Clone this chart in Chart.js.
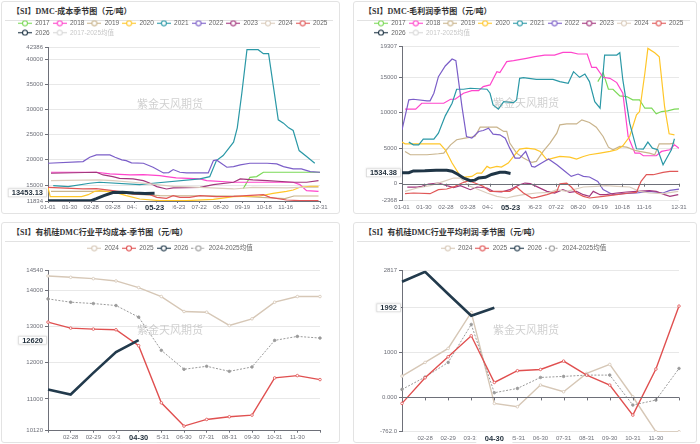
<!DOCTYPE html>
<html><head><meta charset="utf-8">
<script src="https://cdn.jsdelivr.net/npm/chart.js@4.4.1/dist/chart.umd.min.js"></script>
<style>
html,body{margin:0;padding:0;background:#fff;width:700px;height:444px;overflow:hidden;}
.card{position:absolute;border:1px solid #e3e3e3;border-radius:3px;background:#fff;box-sizing:border-box;}
.title{position:absolute;left:10px;top:5px;line-height:10px;font-weight:bold;font-size:8px;font-family:"Liberation Serif","Noto Sans CJK SC",serif;color:#333;white-space:nowrap;}
.sep{position:absolute;left:3px;right:6px;top:18px;height:1px;background:#e2e2e2;}
.wm{position:absolute;font-size:11px;font-family:"Noto Sans CJK SC",sans-serif;color:rgba(150,150,150,0.45);white-space:nowrap;transform:translate(-50%,-50%);pointer-events:none;z-index:5;}
canvas{position:absolute;z-index:2;}
</style></head>
<body>
<div class="card" style="left:1px;top:1px;width:339px;height:213px"><div class="title">【SI】DMC-成本季节图（元/吨）</div><div class="sep"></div></div>
<div class="card" style="left:353px;top:1px;width:344px;height:213px"><div class="title">【SI】DMC-毛利润季节图（元/吨）</div><div class="sep"></div></div>
<div class="card" style="left:1px;top:222px;width:339px;height:221px"><div class="title">【SI】有机硅DMC行业平均成本-季节图（元/吨）</div><div class="sep"></div></div>
<div class="card" style="left:353px;top:222px;width:344px;height:221px"><div class="title">【SI】有机硅DMC行业平均利润-季节图（元/吨）</div><div class="sep"></div></div>

<canvas id="c1" width="340" height="197" style="left:0px;top:17px"></canvas>
<canvas id="c2" width="347" height="197" style="left:350px;top:17px"></canvas>
<canvas id="c3" width="340" height="201" style="left:0px;top:242px"></canvas>
<canvas id="c4" width="347" height="201" style="left:350px;top:242px"></canvas>

<div class="wm" style="left:170px;top:103px">紫金天风期货</div>
<div class="wm" style="left:526px;top:102px">紫金天风期货</div>
<div class="wm" style="left:170px;top:329px">紫金天风期货</div>
<div class="wm" style="left:526px;top:329px">紫金天风期货</div>

<script>
// ---------------- DATA ----------------
const seasonLabels = ['2017','2018','2019','2020','2021','2022','2023','2024','2025','2026','2017-2025均值'];
const seasonColors = ['#7bd957','#ff45cc','#c9b48c','#ffc629','#2a98a6','#7b5ec8','#a3377d','#dbcdbd','#e05757','#1f3546','#cccccc'];
const dayTicks = [0,29,58,87,116,145,174,203,232,261,290,319,365];
const dayTickLabels = ['01-01','01-30','02-28','03-28','04-26','05-25','06-23','07-22','08-20','09-19','10-18','11-16','12-31'];

// DMC cost seasonal: [day of year, value]
const cost2017 = [[262,14290],[271,16540],[280,16670],[289,17540],[365,17540]];
const cost2018 = [[4,17540],[65,17540],[83,17200],[110,17000],[128,17070],[150,16870],[159,16670],[172,16410],[204,16210],[213,15880],[249,15550],[329,15550],[338,15080],[347,13890],[363,13760]];
const cost2019 = [[4,13760],[90,13760],[110,13230],[150,12900],[250,12830],[318,12300],[330,12830],[363,12830]];
const cost2020 = [[0,14550],[3,12700],[45,12700],[54,13090],[63,13760],[69,13890],[90,13560],[105,12900],[123,12230],[150,11900],[186,11900],[222,12170],[249,12700],[284,12830],[302,13360],[320,13760],[329,14020],[338,14550],[352,14750],[363,14750]];
const cost2021 = [[7,14880],[27,14690],[56,15350],[69,15550],[123,15080],[141,15350],[204,16210],[217,16670],[226,19850],[235,20850],[249,23500],[254,26350],[260,33110],[267,41860],[282,41860],[289,41060],[296,41060],[309,27940],[316,27280],[323,26350],[329,25820],[337,21840],[347,20650],[358,19320]];
const cost2022 = [[0,19320],[47,19650],[56,20520],[65,20980],[83,20980],[90,20520],[99,19990],[105,19850],[112,19390],[128,19320],[141,18530],[155,17400],[162,17470],[168,18070],[177,17540],[186,17400],[215,17400],[222,19850],[226,19990],[240,18530],[249,18660],[258,18990],[271,19320],[294,19320],[307,19190],[316,18660],[329,18200],[340,18200],[352,17670],[365,17540]];
const cost2023 = [[4,17340],[65,17540],[74,17000],[87,16670],[96,16340],[114,16210],[128,15880],[137,15350],[146,14690],[159,14220],[168,14420],[204,14550],[222,15080],[249,15550],[258,16210],[275,16010],[294,15880],[329,15550],[347,15550],[363,15880]];
const cost2024 = [[4,15880],[69,16010],[87,15880],[114,15550],[137,15220],[168,14750],[204,14550],[249,14220],[275,14550],[320,14420],[338,14550],[363,14550]];
const cost2025 = [[0,14550],[47,14220],[65,14290],[87,13890],[105,13560],[114,13230],[137,13090],[146,12560],[159,12370],[168,12900],[177,12560],[190,12560],[204,12900],[226,12700],[249,12760],[289,13090],[298,12560],[320,12030],[338,11900],[363,11900]];
const cost2026 = [[0,11900],[20,11900],[40,11870],[57,11870],[65,12300],[75,12900],[87,13500],[100,13560],[115,13400],[130,13300],[143,13350]];
const costTicks = [11834,15000,20000,25000,30000,35000,40000,42386];

// DMC gross profit seasonal: [day of year, value]
const profit2017 = [[258,14390],[265,15650],[272,13310],[278,13310],[287,12370],[296,12280],[304,11810],[313,11810],[320,10640],[329,10640],[335,9840],[342,10170],[350,10260],[359,10500],[365,10550]];
const profit2018 = [[4,10500],[18,10500],[26,11340],[55,11340],[64,11900],[70,11900],[81,12750],[92,13120],[101,13120],[107,13680],[116,13920],[125,15790],[129,15650],[138,17200],[147,17340],[164,17670],[175,17900],[188,18130],[201,18130],[212,18510],[223,18510],[232,18280],[244,18280],[250,16400],[256,16400],[265,15000],[274,14850],[283,14250],[291,12750],[298,6650],[307,4310],[313,4310],[318,3940],[335,3940],[342,4550],[353,4780],[359,5480],[365,5010]];
const profit2019 = [[4,4550],[11,4080],[33,4080],[48,4220],[55,4310],[64,5480],[72,6190],[83,6420],[96,6650],[103,7970],[125,7970],[134,7360],[138,7360],[142,5720],[151,4310],[160,3610],[171,3000],[177,3140],[186,4550],[195,5720],[204,7120],[208,8290],[217,8430],[230,8430],[237,9000],[247,8620],[256,7970],[265,6650],[272,5150],[278,4780],[287,5250],[296,5150],[307,4690],[313,4550],[326,4310],[333,4080],[339,5620],[353,5620],[359,5720]];
const profit2020 = [[0,5860],[4,5620],[15,5620],[50,5620],[57,4780],[66,2910],[77,1030],[83,940],[92,1030],[99,1500],[105,1500],[112,2440],[116,2200],[125,2440],[131,2340],[140,2910],[147,3840],[155,4870],[164,5010],[175,4870],[182,4550],[191,3370],[199,3610],[208,3840],[221,3750],[230,3470],[239,3840],[247,4080],[261,4310],[274,4550],[283,4780],[291,5340],[300,6650],[309,9700],[313,10170],[320,15560],[324,19070],[333,18460],[339,17900],[346,10870],[352,7030],[359,6890]];
const profit2021 = [[9,5860],[15,5480],[22,5480],[28,6280],[42,6280],[48,7120],[57,9560],[66,11340],[72,13310],[81,13310],[90,13450],[112,13310],[116,12750],[120,11100],[127,10500],[134,11570],[147,11430],[151,11810],[155,14850],[160,14940],[177,14710],[199,14710],[208,14390],[219,14150],[226,15790],[234,14990],[241,15460],[247,14390],[254,11570],[261,10640],[267,18130],[283,18130],[287,18460],[291,14620],[300,8530],[309,4920],[318,4870],[324,5860],[330,5010],[337,4780],[344,2670],[350,3840],[355,4780],[359,6330]];
const profit2022 = [[0,7590],[9,11810],[15,11900],[33,11670],[37,11670],[42,12750],[48,15090],[57,16590],[66,17570],[71,17340],[79,10870],[85,6650],[92,6420],[101,7360],[107,7500],[114,7830],[120,6980],[129,6890],[136,6420],[142,5010],[149,3610],[155,3610],[163,4550],[171,2440],[175,2340],[184,2910],[193,3470],[204,2670],[215,1730],[223,1030],[232,1360],[239,1030],[247,940],[258,330],[265,-840],[278,-1550],[291,-1410],[309,-1310],[326,-1080],[344,-1310],[353,-940],[365,-750]];
const profit2023 = [[7,-469],[20,-469],[26,-375],[35,-47],[48,94],[59,-281],[68,-562],[77,-281],[90,-844],[99,-469],[112,-609],[120,-1078],[131,-1172],[142,-844],[149,-469],[155,-141],[162,94],[169,0],[177,-375],[191,-1078],[201,-1312],[212,-844],[221,-1219],[230,-1078],[239,-1547],[247,-1781],[252,-1078],[261,-1547],[269,-1547],[283,-1312],[296,-1172],[309,-1078],[326,-984],[335,-1078],[346,-1547],[353,-1781],[364,-1547]];
const profit2024 = [[4,-1078],[20,-609],[37,-281],[55,328],[68,797],[77,797],[88,-281],[99,-750],[112,-1312],[125,-1781],[138,-2016],[147,-1781],[160,-1547],[177,-1312],[195,-1219],[204,-844],[217,-1078],[239,-469],[256,-375],[269,-281],[283,-375],[300,-469],[313,-1078],[326,-1312],[344,-1406],[364,-1078]];
const profit2025 = [[4,-1406],[15,-1312],[37,-1406],[48,-844],[59,-750],[70,-375],[79,94],[88,422],[96,94],[107,-375],[116,-1078],[129,-1078],[142,-1078],[151,-469],[160,-1312],[171,-2016],[177,-1922],[191,-1547],[204,-1078],[208,0],[217,94],[223,-469],[230,-1312],[239,-1781],[247,-2016],[265,-1781],[283,-1547],[300,-1312],[309,-1219],[315,328],[322,1265],[331,1265],[344,1593],[353,1734],[364,1734]];
const profit2026 = [[0,1550],[9,1550],[15,1800],[30,1830],[45,1900],[59,1900],[66,1750],[74,1300],[81,800],[90,420],[96,500],[101,800],[110,900],[118,1300],[129,1600],[136,1600],[143,1450]];
const profitTicks = [-2368,0,5000,10000,15000,19307];

// Industry average (monthly)
const monthCats = ['01-31','02-28','02-29','03-31','04-30','05-31','06-30','07-31','08-31','09-30','10-31','11-30','12-31'];
const avgLabels = ['2024','2025','2026','2024-2025均值'];
const avgColors = ['#d6c7b6','#e05050','#223a4c','#9a9a9a'];
const avgCost2024 = [14394,14358,14320,14257,14073,13826,13413,13394,13027,13211,13670,13826,13826];
const avgCost2025 = [13119,12954,12927,12908,12468,10890,10248,10431,10505,10550,11578,11642,11532];
const avgCost2026 = [11257,11119,11716,12294,12620];
const avgCostMean = [13761,13670,13633,13578,13257,12340,11817,11899,11760,11881,12615,12725,12679];
const avgCostTicks = [10120,11000,12000,13000,14000,14540];
const avgProfit2024 = [474,778,1089,1889,-133,-207,274,126,533,733,15,-762,-762];
const avgProfit2025 = [-133,437,904,1370,333,593,622,807,496,274,-393,630,2030];
const avgProfit2026 = [2570,2793,2300,1815,1992];
const avgProfitMean = [178,452,778,1622,104,200,444,467,496,496,-170,-59,644];
const avgProfitTicks = [-762,0,1000,2000,2817];
const avgProfitTickLabels = ['-762.0','0.000','1000','2000','2817'];

// ---------------- RENDER ----------------
const FONT = '"Liberation Sans","Noto Sans CJK SC",Arial,sans-serif';
const AX = '#6e7079', GRID = '#e8e8e8';

function legendIcon(color, dash){
  const c = document.createElement('canvas'); c.width = 14; c.height = 7;
  const g = c.getContext('2d');
  g.strokeStyle = color; g.lineWidth = 1.1;
  if (dash) g.setLineDash([2,1.5]);
  g.beginPath(); g.moveTo(0,3.5); g.lineTo(14,3.5); g.stroke();
  g.setLineDash([]);
  g.fillStyle = '#fff'; g.beginPath(); g.arc(7,3.5,2.5,0,Math.PI*2); g.fill(); g.stroke();
  return c;
}

const pointerPlugin = {
  id: 'pointer',
  afterDraw(chart, args, o) {
    const ctx = chart.ctx, x = chart.scales.x, y = chart.scales.y;
    ctx.save();
    if (o.zeroTicks) {
      const y0 = y.getPixelForValue(0);
      ctx.strokeStyle = AX; ctx.lineWidth = 1;
      ctx.beginPath(); ctx.moveTo(x.left, Math.round(y0)+0.5); ctx.lineTo(x.right, Math.round(y0)+0.5); ctx.stroke();
      x.ticks.forEach((t,i) => {
        const px = Math.round(x.getPixelForTick(i)) + 0.5;
        ctx.beginPath(); ctx.moveTo(px, y0); ctx.lineTo(px, y0 + 3); ctx.stroke();
      });
    }
    ctx.font = 'bold 7.5px ' + FONT;
    ctx.textAlign = 'center'; ctx.textBaseline = 'middle';
    if (o.yText) {
      const py = y.getPixelForValue(o.yVal);
      const w = ctx.measureText(o.yText).width + 8, h = 9;
      const rx = y.right - 1 - w;
      ctx.fillStyle = '#fff'; ctx.strokeStyle = '#d8d8d8'; ctx.lineWidth = 0.8;
      ctx.shadowColor = 'rgba(0,0,0,0.12)'; ctx.shadowBlur = 2;
      ctx.fillRect(rx, py - h/2, w, h);
      ctx.shadowBlur = 0;
      ctx.strokeRect(rx + 0.5, py - h/2 + 0.5, w - 1, h - 1);
      ctx.fillStyle = '#1f2d3a';
      ctx.fillText(o.yText, rx + w/2, py + 0.5);
    }
    if (o.xText) {
      const px = x.getPixelForValue(o.xVal);
      const w = ctx.measureText(o.xText).width + 17, h = 10;
      const top = chart.chartArea.bottom + 1.5;
      ctx.fillStyle = '#fff';
      ctx.fillRect(px - w/2, top, w, h);
      ctx.fillStyle = '#1f2d3a';
      ctx.fillText(o.xText, px, top + h/2 + 0.5);
    }
    ctx.restore();
  }
};

function build(id, o) {
  const xScale = o.xType === 'linear' ? {
    type: 'linear', min: 0, max: 365,
    afterBuildTicks: s => { s.ticks = dayTicks.map(v => ({value: v})); },
    ticks: {autoSkip: false, maxRotation: 0, font: {size: 6, family: FONT}, color: AX, padding: o.zero ? 3 : 1,
      callback: (v, i) => dayTickLabels[i]},
    grid: {drawOnChartArea: false, drawTicks: !o.zero, tickLength: 2, tickColor: AX},
    border: {display: !o.zero, color: AX},
    afterFit: s => { s.height = o.xH; }
  } : {
    type: 'category', labels: monthCats, offset: false,
    ticks: {autoSkip: false, maxRotation: 0, font: {size: 6, family: FONT}, color: AX, padding: o.zero ? 3 : 1,
      callback: (v, i) => (i === 0 || i === monthCats.length - 1) ? '' : monthCats[i]},
    grid: {drawOnChartArea: false, drawTicks: !o.zero, tickLength: 2, tickColor: AX},
    border: {display: !o.zero, color: AX},
    afterFit: s => { s.height = o.xH; }
  };
  return new Chart(document.getElementById(id), {
    type: 'line',
    data: {labels: o.xType === 'linear' ? undefined : monthCats, datasets: o.datasets},
    options: {
      responsive: false, animation: false, devicePixelRatio: 1,
      layout: {padding: {left: o.padL, right: 0, top: 0, bottom: 0}},
      elements: {line: {tension: 0}},
      scales: {
        x: xScale,
        xT: {type: 'linear', position: 'top', display: true, ticks: {display: false}, grid: {display: false}, border: {display: false},
             afterFit: s => { s.height = o.topH; }},
        y: {type: 'linear', min: o.yTicks[0], max: o.yTicks[o.yTicks.length - 1],
            afterBuildTicks: s => { s.ticks = o.yTicks.map(v => ({value: v})); },
            ticks: {font: {size: 6, family: FONT}, color: AX, padding: 2,
                    callback: (v, i) => o.yLabels ? o.yLabels[i] : String(v)},
            grid: {color: c => (o.zero && c.tick && c.tick.value === 0) ? 'rgba(0,0,0,0)' : GRID, tickLength: 3, tickColor: AX},
            border: {display: true, color: AX},
            afterFit: s => { s.width = o.yW; }},
        yR: {type: 'linear', position: 'right', display: true, ticks: {display: false}, grid: {display: false}, border: {display: false},
             afterFit: s => { s.width = o.yRW; }}
      },
      plugins: {
        tooltip: {enabled: false},
        pointer: o.pointer,
        legend: {
          display: true, position: 'top', align: o.legendAlign,
          labels: {
            usePointStyle: true, pointStyleWidth: 14, boxHeight: 7, padding: 3,
            font: {size: 6.5, family: FONT}, color: '#666',
            generateLabels: ch => ch.data.datasets.map((d, i) => ({
              text: d.label, pointStyle: legendIcon(d.iconColor || d.borderColor, d.borderDash && d.borderDash.length),
              fillStyle: '#fff', strokeStyle: '#fff', lineWidth: 0,
              fontColor: d.textColor || '#666', hidden: false, datasetIndex: i
            }))
          }
        }
      }
    },
    plugins: [pointerPlugin]
  });
}

function seasonSets(arrs) {
  const sets = arrs.map((a, i) => ({
    label: seasonLabels[i],
    data: a.map(p => ({x: p[0], y: p[1]})),
    borderColor: seasonColors[i],
    backgroundColor: seasonColors[i],
    borderWidth: i === 9 ? 3 : 1.2,
    pointRadius: 0,
    xAxisID: 'x', yAxisID: 'y',
    order: 20 - i
  }));
  sets[9].order = 0;
  sets.push({label: seasonLabels[10], data: [], borderColor: seasonColors[10], iconColor: '#d8d8d8', textColor: '#c8c8c8',
             pointRadius: 0, xAxisID: 'x', yAxisID: 'y', order: 30});
  return sets;
}

function avgSets(arrs) {
  const widths = [1.4, 1.4, 2.6, 1];
  const orders = [4, 2, 0, 3];
  return arrs.map((a, i) => ({
    label: avgLabels[i], data: a,
    borderColor: avgColors[i], backgroundColor: i === 3 ? avgColors[i] : '#fff',
    borderWidth: widths[i], borderDash: i === 3 ? [2, 1.5] : [],
    pointRadius: i === 2 ? 0 : 1.3, pointBorderWidth: 0.8, pointBorderColor: avgColors[i],
    pointBackgroundColor: i === 3 ? avgColors[i] : '#fff',
    xAxisID: 'x', yAxisID: 'y', order: orders[i]
  }));
}

build('c1', {
  xType: 'linear', datasets: seasonSets([cost2017,cost2018,cost2019,cost2020,cost2021,cost2022,cost2023,cost2024,cost2025,cost2026]),
  yTicks: costTicks, padL: 15, yW: 33, yRW: 20, topH: 1, xH: 13, legendAlign: 'start',
  pointer: {xVal: 143, xText: '05-23', yVal: 13453.13, yText: '13453.13'}
});
build('c2', {
  xType: 'linear', datasets: seasonSets([profit2017,profit2018,profit2019,profit2020,profit2021,profit2022,profit2023,profit2024,profit2025,profit2026]),
  yTicks: profitTicks, padL: 21, yW: 31, yRW: 18, topH: 0.7, xH: 13.5, legendAlign: 'start', zero: true,
  pointer: {zeroTicks: true, xVal: 143, xText: '05-23', yVal: 1534.38, yText: '1534.38'}
});
build('c3', {
  xType: 'category', datasets: avgSets([avgCost2024, avgCost2025, avgCost2026, avgCostMean]),
  yTicks: avgCostTicks, padL: 0, yW: 48, yRW: 20, topH: 9.2, xH: 12.3, legendAlign: 'center',
  pointer: {xVal: 4, xText: '04-30', yVal: 12620, yText: '12620'}
});
build('c4', {
  xType: 'category', datasets: avgSets([avgProfit2024, avgProfit2025, avgProfit2026, avgProfitMean]),
  yTicks: avgProfitTicks, yLabels: avgProfitTickLabels, padL: 0, yW: 52, yRW: 18, topH: 9.2, xH: 11.3, legendAlign: 'center', zero: true,
  pointer: {zeroTicks: true, xVal: 4, xText: '04-30', yVal: 1992, yText: '1992'}
});
</script>
</body></html>
